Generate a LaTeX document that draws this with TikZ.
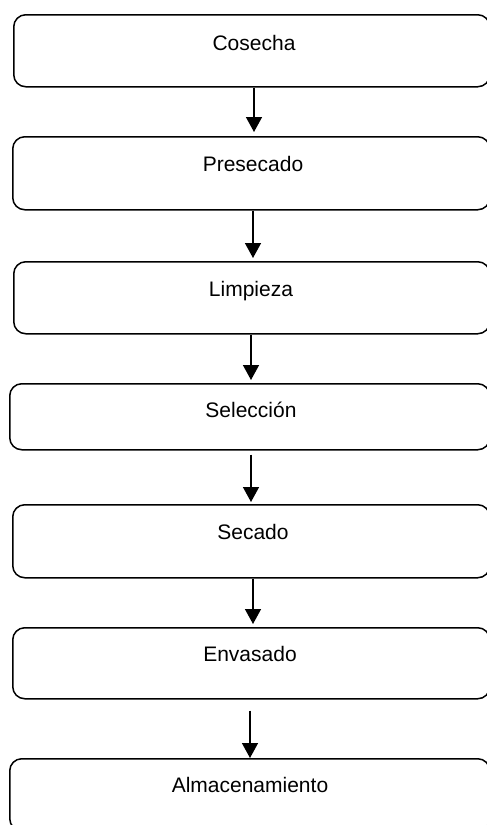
\documentclass[tikz,border=0pt]{standalone}
\usepackage{fontspec}
\setmainfont{Liberation Sans}
\usetikzlibrary{arrows.meta}
\begin{document}
\begin{tikzpicture}
                            [x=1pt, y=-1pt,
                            paso/.style = {draw, line width=1.5pt,
                                        rounded corners=12pt,
                                        anchor=north west,
                                        minimum height=#1},
                            paso/.default = 72pt,
                            texto/.style = {anchor=base,
                                        font=\fontsize{21}{25}\selectfont},
                            flecha/.style = {line width=1.5pt,
                                        -{Triangle[length=15pt,width=16pt]}}]
                            \path[use as bounding box, clip] (0,0) rectangle (487,825);
                            % Cajas del proceso
                            \node[paso=72pt, minimum width=476pt] (b1) at (13,14) {};
                            \node[paso=73pt, minimum width=477pt] (b2) at (12,136) {};
                            \node[paso=72pt, minimum width=476pt] (b3) at (13,261) {};
                            \node[paso=66pt, minimum width=480pt] (b4) at (9,383) {};
                            \node[paso=73pt, minimum width=477pt] (b5) at (12,504) {};
                            \node[paso=71pt, minimum width=477pt] (b6) at (12,627) {};
                            \node[paso=72pt, minimum width=480pt] (b7) at (9,758) {};
                            % Nombres de los pasos
                            \node[texto] (t1) at (254,50) {Cosecha};
                            \node[texto] (t2) at (253,171) {Presecado};
                            \node[texto] (t3) at (251,296) {Limpieza};
                            \node[texto] (t4) at (251,417) {Selección};
                            \node[texto] (t5) at (253,539) {Secado};
                            \node[texto] (t6) at (250,661) {Envasado};
                            \node[texto] (t7) at (250,792) {Almacenamiento};
                            % Flechas
                            \draw[flecha, shorten >=4pt] (t1 |- b1.south) -- (t1 |- b2.north);
                            \draw[flecha, shorten >=3pt] (t2 |- b2.south) -- (t2 |- b3.north);
                            \draw[flecha, shorten >=3pt] (t3 |- b3.south) -- (t3 |- b4.north);
                            \draw[flecha, shorten <=4pt, shorten >=2pt] (t4 |- b4.south) -- (t4 |- b5.north);
                            \draw[flecha, shorten >=3pt] (t5 |- b5.south) -- (t5 |- b6.north);
                            \draw[flecha, shorten <=11pt] (t6 |- b6.south) -- (t6 |- b7.north);
                        \end{tikzpicture}
\end{document}
